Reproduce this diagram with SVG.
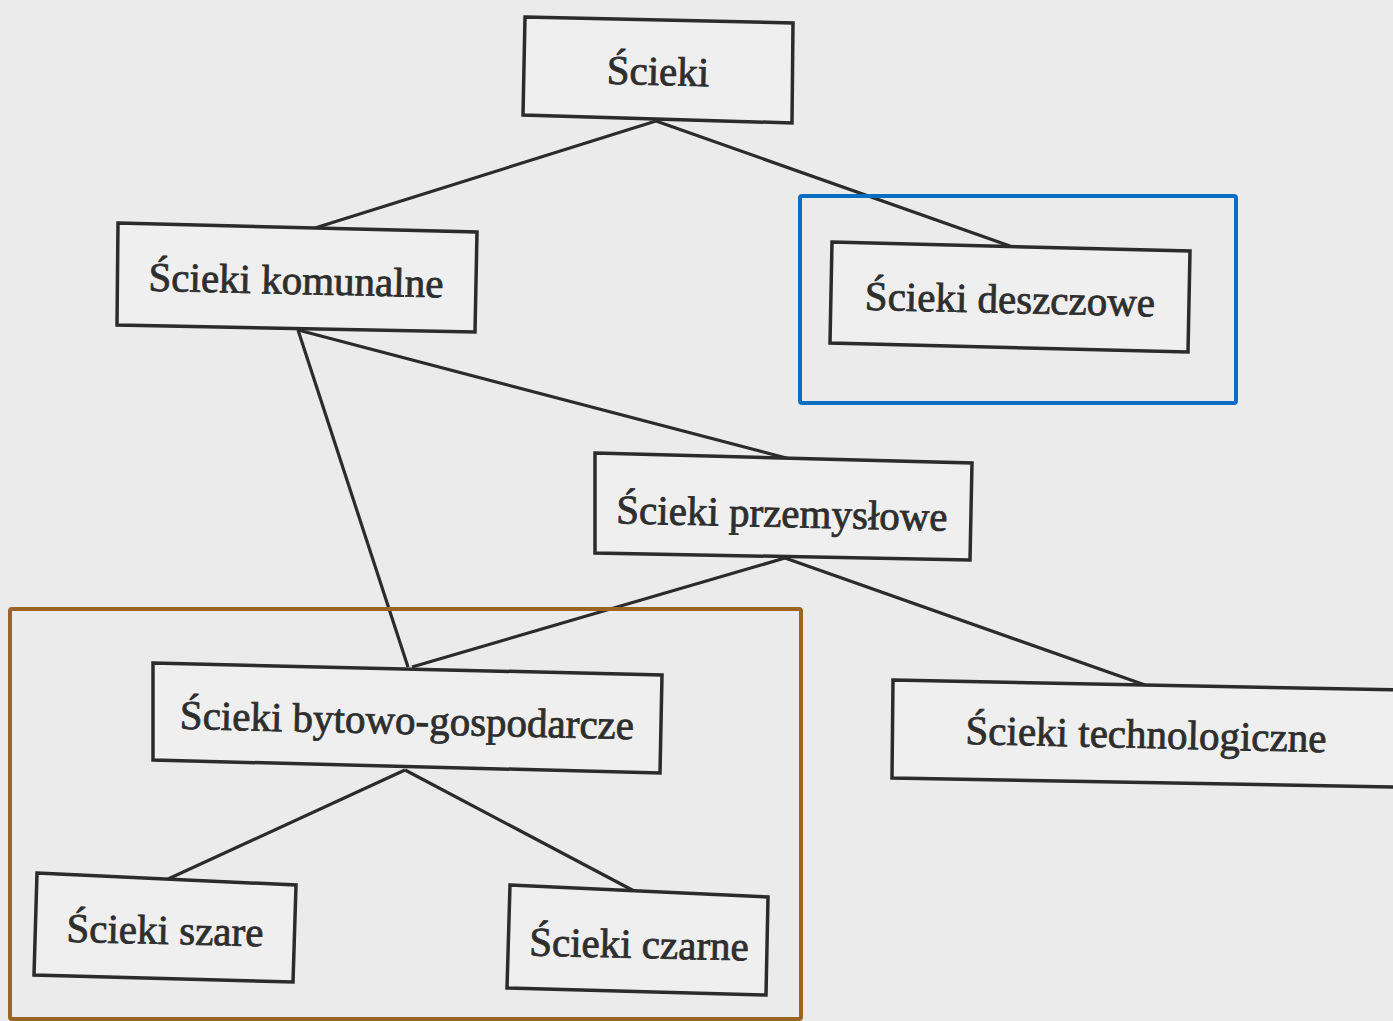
<svg xmlns="http://www.w3.org/2000/svg" width="1393" height="1021" viewBox="0 0 1393 1021">
<style>
.box{fill:#efefef;stroke:#2b2b2b;stroke-width:3.5;stroke-linejoin:miter}
.lbl{font-family:"Liberation Serif","DejaVu Serif",serif;font-size:41px;fill:#2e2e2e;stroke:#2e2e2e;stroke-width:0.8;text-anchor:middle}
.con line{stroke:#2b2b2b;stroke-width:3.2}
</style>
<rect width="1393" height="1021" fill="#ebebeb"/>
<g class="con">
<line x1="656" y1="121" x2="315" y2="228"/>
<line x1="656" y1="121" x2="1010" y2="246"/>
<line x1="298" y1="330" x2="408" y2="667"/>
<line x1="298" y1="330" x2="790" y2="459"/>
<line x1="785" y1="558" x2="412" y2="667"/>
<line x1="785" y1="558" x2="1145" y2="685"/>
<line x1="405" y1="770" x2="168" y2="879"/>
<line x1="405" y1="770" x2="636" y2="892"/>
</g>
<g id="n-scieki"><polygon class="box" points="525,17 793,23 792,123 523,115"/><text class="lbl" x="658" y="85" transform="rotate(1.3 658 72)">Ścieki</text></g>
<g id="n-komunalne"><polygon class="box" points="118,223 477,232 475,332 117,325"/><text class="lbl" x="296" y="294" transform="rotate(1.3 296 280)">Ścieki komunalne</text></g>
<g id="n-deszczowe"><polygon class="box" points="832,242 1190,251 1188,352 830,343"/><text class="lbl" x="1010" y="313" transform="rotate(1.3 1010 300)">Ścieki deszczowe</text></g>
<g id="n-przemyslowe"><polygon class="box" points="595,453 972,463 970,560 595,553"/><text class="lbl" x="782" y="527" transform="rotate(1.3 782 514)">Ścieki przemysłowe</text></g>
<g id="n-bytowo"><polygon class="box" points="153,663 662,675 660,773 153,760"/><text class="lbl" x="407" y="734" transform="rotate(1.3 407 720)">Ścieki bytowo-gospodarcze</text></g>
<g id="n-technologiczne"><polygon class="box" points="893,680 1400,690 1400,787 892,778"/><text class="lbl" x="1146" y="748" transform="rotate(1.3 1146 735)">Ścieki technologiczne</text></g>
<g id="n-szare"><polygon class="box" points="37,873 296,885 293,982 34,975"/><text class="lbl" x="165" y="944" transform="rotate(1.3 165 930)">Ścieki szare</text></g>
<g id="n-czarne"><polygon class="box" points="510,885 768,897 766,995 507,988"/><text class="lbl" x="639" y="958" transform="rotate(1.3 639 945)">Ścieki czarne</text></g>
<g id="highlights" fill="none" stroke-width="4">
<rect x="800" y="196" width="436" height="207" rx="2" stroke="#0a6fc2"/>
<rect x="10" y="609" width="791" height="410" rx="2" stroke="#9c6424"/>
</g>
</svg>
